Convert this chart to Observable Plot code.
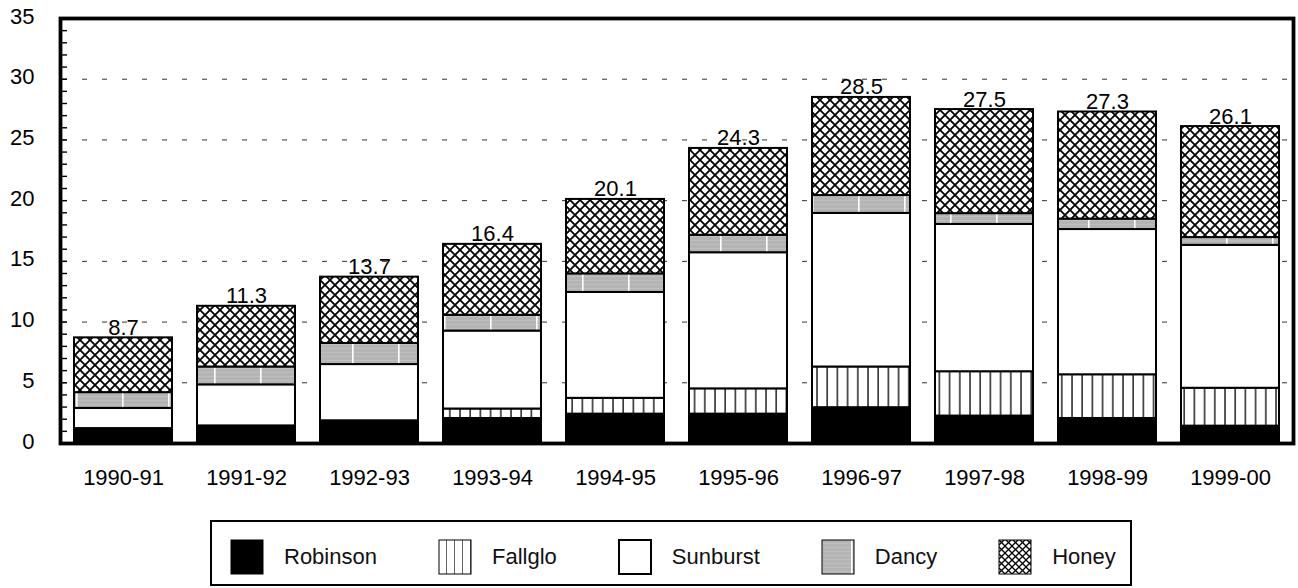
<!DOCTYPE html>
<html>
<head>
<meta charset="utf-8">
<script src="https://cdn.jsdelivr.net/npm/d3@7"></script>
<script src="https://cdn.jsdelivr.net/npm/@observablehq/plot@0.6"></script>
<style>
  html, body { margin: 0; padding: 0; background: #fff; }
  body { width: 1298px; height: 588px; position: relative; overflow: hidden; font-family: "Liberation Sans", Arial, sans-serif; }
  #chart { position: absolute; left: 0; top: 0; }
  #legend { position: absolute; left: 210px; top: 520px; width: 922px; height: 66px; border: 2px solid #000; box-sizing: border-box;
            display: flex; align-items: center; padding: 8px 0 0 18px; gap: 0; }
  .item { display: flex; align-items: center; margin-right: 61px; }
  .item svg { display: block; }
  .item span { font-size: 22px; margin-left: 20px; color: #111; }
</style>
</head>
<body>
<svg width="0" height="0" style="position:absolute">
  <defs>
    <pattern id="p-fallglo" patternUnits="userSpaceOnUse" width="10.2" height="10">
      <rect width="10.2" height="10" fill="#fff"/>
      <line x1="1" y1="-1" x2="1" y2="11" stroke="#000" stroke-width="1.3"/>
    </pattern>
    <pattern id="p-dancy" patternUnits="userSpaceOnUse" width="46" height="4">
      <rect width="46" height="4" fill="#b4b4b4"/>
      <rect x="0" width="46" height="1" fill="#bfbfbf"/>
      <rect x="30" width="1.6" height="4" fill="#fff"/>
    </pattern>
    <pattern id="p-honey" patternUnits="userSpaceOnUse" width="10" height="10">
      <rect width="10" height="10" fill="#fff"/>
      <path d="M-1,-1L11,11M11,-1L-1,11" stroke="#000" stroke-width="1.8"/>
    </pattern>
    <pattern id="p-fallglo-l" patternUnits="userSpaceOnUse" width="8" height="10">
      <rect width="8" height="10" fill="#fff"/>
      <line x1="0" y1="-1" x2="0" y2="11" stroke="#000" stroke-width="1.2"/>
    </pattern>
    <pattern id="p-honey-l" patternUnits="userSpaceOnUse" width="7" height="7">
      <rect width="7" height="7" fill="#fff"/>
      <path d="M-1,-1L8,8M8,-1L-1,8" stroke="#000" stroke-width="1.3"/>
    </pattern>
  </defs>
</svg>
<div id="chart"></div>
<div id="legend"></div>
<script>
// ---- data ----
const years = ["1990-91","1991-92","1992-93","1993-94","1994-95","1995-96","1996-97","1997-98","1998-99","1999-00"];
const seriesNames = ["Robinson","Fallglo","Sunburst","Dancy","Honey"];
const robinson = [1.23, 1.45, 1.87, 2.06, 2.42, 2.42, 2.95, 2.26, 2.06, 1.43];
const fallglo  = [0,    0,    0,    0.78, 1.30, 2.08, 3.35, 3.65, 3.60, 3.12];
const sunburst = [1.66, 3.38, 4.63, 6.42, 8.72, 11.21, 12.65, 12.13, 11.96, 11.77];
const dancy    = [1.30, 1.47, 1.74, 1.30, 1.53, 1.44, 1.47, 0.89, 0.86, 0.64];
const honey    = [4.51, 5.00, 5.46, 5.84, 6.13, 7.15, 8.08, 8.57, 8.82, 9.14];
const totals   = [8.7, 11.3, 13.7, 16.4, 20.1, 24.3, 28.5, 27.5, 27.3, 26.1];
const yTicks   = [0, 5, 10, 15, 20, 25, 30, 35];
const gridTicks = [0, 5, 10, 15, 20, 25, 30];
const minorTicks = [1,2,3,4,5,6,7,8,9,10,11,12,13,14,15,16,17,18,19,20,21,22,23,24,25,26,27,28,29,30,31,32,33,34];

const seriesValues = [robinson, fallglo, sunburst, dancy, honey];
const fills = ["#000", "url(#p-fallglo)", "#fff", "url(#p-dancy)", "url(#p-honey)"];

const rows = [];
years.forEach((yr, i) => {
  seriesNames.forEach((s, j) => {
    if (seriesValues[j][i] > 0) rows.push({year: yr, series: s, value: seriesValues[j][i]});
  });
});
const totalRows = years.map((yr, i) => ({year: yr, total: totals[i]}));

const W = 1298, H = 510, ML = 60, MR = 5, MT = 18, MB = 67;

const chart = Plot.plot({
  width: W, height: H,
  marginLeft: ML, marginRight: MR, marginTop: MT, marginBottom: MB,
  style: {fontFamily: "'Liberation Sans', Arial, sans-serif", fontSize: "22px", background: "#fff", color: "#000", overflow: "visible"},
  x: {domain: years, paddingInner: 0.2, paddingOuter: 0.1, axis: null, label: null},
  y: {domain: [0, 35], axis: null, label: null},
  color: {type: "ordinal", domain: seriesNames, range: fills},
  marks: [
    Plot.ruleY(gridTicks, {stroke: "#333", strokeWidth: 1, strokeDasharray: "5,15", strokeDashoffset: -2}),
    Plot.barY(rows, Plot.stackY({order: seriesNames}, {x: "year", y: "value", fill: "series", stroke: "#000", strokeWidth: 2})),
    Plot.ruleY(minorTicks, {stroke: "#000", strokeWidth: 1.4, insetRight: W - ML - MR - 7}),
    Plot.text(totalRows, {x: "year", y: "total", text: d => d.total.toFixed(1), lineAnchor: "bottom", dy: -3, fontSize: 22, fill: "#000"}),
    Plot.axisY(yTicks, {tickSize: 0, tickPadding: 26, fontSize: 22, label: null, dy: -2}),
    Plot.axisX({tickSize: 0, tickPadding: 26, fontSize: 22, label: null}),
    Plot.frame({stroke: "#000", strokeWidth: 3.8})
  ]
});
document.getElementById("chart").appendChild(chart);

// ---- legend ----
const legendFills = ["#000", "url(#p-fallglo-l)", "#fff", "url(#p-dancy)", "url(#p-honey-l)"];
const legend = document.getElementById("legend");
seriesNames.forEach((s, j) => {
  const item = document.createElement("div");
  item.className = "item";
  const sw = j === 2 ? 'stroke="#000" stroke-width="2"' : 'stroke="#000" stroke-width="1"';
  item.innerHTML = `<svg width="34" height="36"><rect x="1" y="1" width="32" height="34" fill="${legendFills[j]}" ${sw}/></svg><span>${s}</span>`;
  legend.appendChild(item);
});
</script>
</body>
</html>
